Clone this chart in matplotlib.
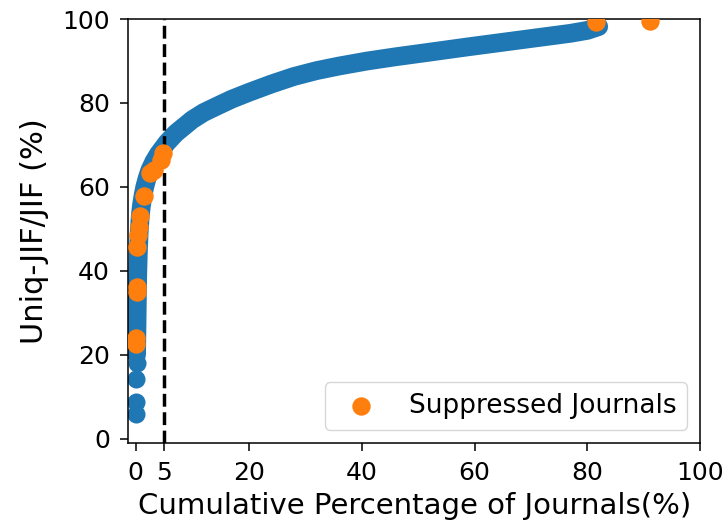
import matplotlib
matplotlib.use("Agg")
import matplotlib.pyplot as plt

# Blue curve: cumulative percentage of journals vs Uniq-JIF/JIF
sparse_x = [0.0, 0.05, 0.1, 0.15]
sparse_y = [5.8, 8.6, 14.3, 18.0]

curve_x = [0.15, 0.2, 0.25, 0.3, 0.35, 0.45, 0.6, 0.8, 1.0, 1.3, 1.6, 2.0, 2.5,
           3.2, 4.0, 5.5, 7.1, 10, 12, 14, 17, 20, 24, 28, 32, 36, 41, 46, 52,
           59, 68, 77, 80, 82]
curve_y = [20, 25, 30, 35, 39, 44, 49, 53, 55.5, 58, 60, 62, 64,
           66, 67.8, 70.5, 72.8, 76, 77.7, 79, 80.9, 82.5, 84.5, 86.3, 87.7, 88.8, 90.0, 91.0, 92.1,
           93.4, 95.0, 96.6, 97.3, 98.2]

# Suppressed journals
supp_x = [0.1, 0.1, 0.15, 0.2, 0.3, 0.4, 0.6, 0.8, 1.5, 2.6, 3.2, 4.4, 4.9, 81.5, 91.0]
supp_y = [22.6, 24.0, 35.0, 36.2, 45.6, 48.5, 50.5, 53.0, 57.8, 63.2, 64.0, 66.5, 68.0, 99.3, 99.6]

xticks = [0, 5, 20, 40, 60, 80, 100]
yticks = [0, 20, 40, 60, 80, 100]

blue = "#1f77b4"
orange = "#ff7f0e"


def main():
    fig = plt.figure(figsize=(7.28, 5.29), dpi=100)
    ax = fig.add_axes([0.176, 0.163, 0.786, 0.801])

    ax.plot(sparse_x, sparse_y, "o", color=blue, markersize=13, markeredgewidth=0)
    ax.plot(curve_x, curve_y, "-", color=blue, linewidth=13.5,
            solid_capstyle="round", solid_joinstyle="round")

    ax.axvline(5, color="black", linestyle="--", linewidth=2.5)

    ax.scatter(supp_x, supp_y, s=150, color=orange, label="Suppressed Journals", zorder=3)

    ax.set_xlim(-1.35, 100)
    ax.set_ylim(-1.0, 100)
    ax.set_xticks(xticks)
    ax.set_yticks(yticks)
    ax.tick_params(labelsize=18, length=6, width=1.1, pad=7)
    for sp in ax.spines.values():
        sp.set_linewidth(1.1)

    ax.set_xlabel("Cumulative Percentage of Journals(%)", fontsize=21, labelpad=5)
    ax.set_ylabel("Uniq-JIF/JIF (%)", fontsize=22, labelpad=10)

    ax.legend(loc="lower right", fontsize=19)

    fig.savefig("out.png", dpi=100)


if __name__ == "__main__":
    main()
